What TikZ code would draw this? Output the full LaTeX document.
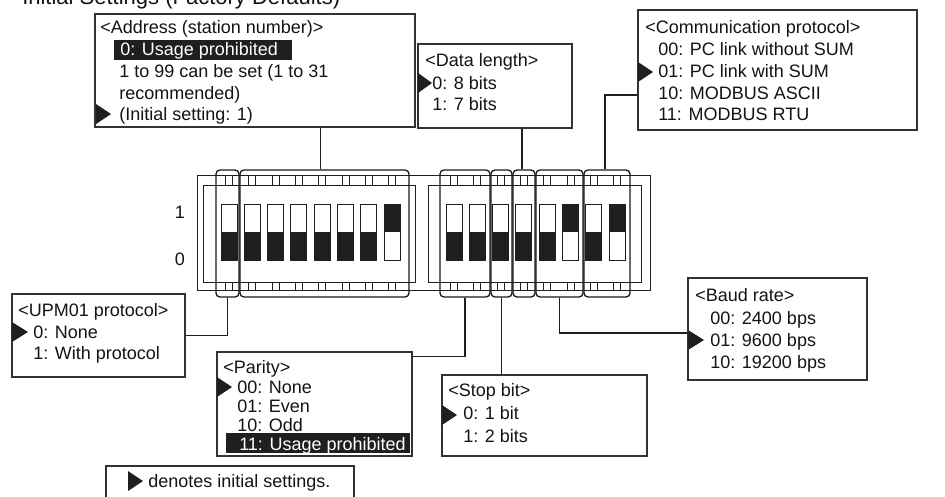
\documentclass[tikz,border=0pt]{standalone}
\usepackage{fontspec}
\setmainfont{Liberation Sans}
\usetikzlibrary{calc,fit}
\newcommand\swrow[2]{%
  \foreach \s [count=\i from 0] in {#2} {
    \pgfmathsetmacro\xa{#1+23.33*\i}
    \pgfmathsetmacro\xb{\xa+16}
    \pgfmathsetmacro\xc{\xa+8}
    \ifnum\s=1 \fill[ink] (\xa,204) rectangle (\xb,232); \else \fill[ink] (\xa,232) rectangle (\xb,260); \fi
    \draw[sw] (\xa,204) rectangle (\xb,260);
    \draw[sw] (\xc-3.5,175) rectangle (\xc+3.5,185);
    \draw[sw] (\xc-3.5,282) rectangle (\xc+3.5,290);
  }}
\begin{document}
\begin{tikzpicture}[x=0.75pt,y=-0.75pt,
  ink/.style={black!88},
  box/.style={draw=black!80, line width=0.9pt, rectangle, inner sep=0pt},
  txt/.style={anchor=base west, inner sep=0pt, font=\fontsize{13.5pt}{16pt}\selectfont, text=black!92},
  hi/.style={txt, text=white},
  grp/.style={draw=black!90, line width=1pt, rounded corners=3pt, inner sep=0pt},
  sw/.style={draw=black!88, line width=0.75pt},
  conn/.style={draw=black!88, line width=0.9pt},
]
\useasboundingbox (0,0) rectangle (945,496);
\fill[white] (0,0) rectangle (945,496);

% partially visible title (cut at the top edge, as in the reference)
\begin{scope}
\clip (0,0) rectangle (945,496);
\node[txt, font=\fontsize{16.5pt}{20pt}\selectfont] (title) at (22,4) {Initial Settings (Factory Defaults)};
\node[box, fit={(106,466) (354,510)}] (note) {};
\end{scope}
\fill[ink] (128,471) -- (143,481) -- (128,491) -- cycle;
\node[txt] (notet) at (148,487) {denotes initial settings.};

% DIP switch modules
\draw[sw] (197,175) rectangle (650,290);
\draw[sw] (203,185) rectangle (415,282);
\draw[sw] (428,185) rectangle (641,282);
\swrow{221}{0,0,0,0,0,0,0,1}
\swrow{446}{0,0,0,0,0,1,0,1}
\node[txt, anchor=center] (lbl1) at (180,212) {1};
\node[txt, anchor=center] (lbl0) at (180,259) {0};

% groups
\node[grp, fit={(216,170) (239,297)}] (gupm) {};
\node[grp, fit={(240,170) (409,297)}] (gaddr) {};
\node[grp, fit={(440,170) (490,297)}] (gpar) {};
\node[grp, fit={(491,170) (512,297)}] (gstop) {};
\node[grp, fit={(513,170) (535,297)}] (gdata) {};
\node[grp, fit={(536,170) (583,297)}] (gbaud) {};
\node[grp, fit={(584,170) (630,297)}] (gcomm) {};

% Address box
\node[box, fit={(95,14) (415,127)}] (addr) {};
\node[txt] (addrh) at (100,33) {<Address (station number)>};
\fill[ink] (114,40) rectangle (292,60);
\node[hi] (addr1) at (120,55) {0: Usage prohibited};
\node[txt] (addr2) at (119,77) {1 to 99 can be set (1 to 31};
\node[txt] (addr3) at (119,99) {recommended)};
\node[txt] (addr4) at (119,120) {(Initial setting: 1)};
\fill[ink] (96,104) -- (111,114) -- (96,124) -- cycle;

% Data length box
\node[box, fit={(418,44) (572,128)}] (data) {};
\node[txt] (datah) at (425,66) {<Data length>};
\node[txt] (data1) at (432,89) {0: 8 bits};
\node[txt] (data2) at (432,110) {1: 7 bits};
\fill[ink] (418,73) -- (432,83) -- (418,93) -- cycle;

% Communication protocol box
\node[box, fit={(638,10) (917,130)}] (comm) {};
\node[txt] (commh) at (645,33) {<Communication protocol>};
\node[txt] (comm1) at (658,55) {00: PC link without SUM};
\node[txt] (comm2) at (658,77) {01: PC link with SUM};
\node[txt] (comm3) at (658,99) {10: MODBUS ASCII};
\node[txt] (comm4) at (658,120) {11: MODBUS RTU};
\fill[ink] (638,62) -- (653,72) -- (638,82) -- cycle;

% UPM01 box
\node[box, fit={(12,294) (185,377)}] (upm) {};
\node[txt] (upmh) at (18,316) {<UPM01 protocol>};
\node[txt] (upm1) at (33,338) {0: None};
\node[txt] (upm2) at (33,359) {1: With protocol};
\fill[ink] (12,322) -- (28,332) -- (12,342) -- cycle;

% Parity box
\node[box, fit={(217,352) (412,456)}] (par) {};
\node[txt] (parh) at (223,373) {<Parity>};
\node[txt] (par1) at (237,393) {00: None};
\node[txt] (par2) at (237,412) {01: Even};
\node[txt] (par3) at (237,431) {10: Odd};
\fill[ink] (226,433) rectangle (410,453);
\node[hi] (par4) at (239,450) {11: Usage prohibited};
\fill[ink] (217,377) -- (232,387) -- (217,397) -- cycle;

% Stop bit box
\node[box, fit={(442,375) (647,456)}] (stop) {};
\node[txt] (stoph) at (448,396) {<Stop bit>};
\node[txt] (stop1) at (463,419) {0: 1 bit};
\node[txt] (stop2) at (463,442) {1: 2 bits};
\fill[ink] (442,405) -- (457,415) -- (442,425) -- cycle;

% Baud rate box
\node[box, fit={(688,278) (867,380)}] (baud) {};
\node[txt] (baudh) at (695,301) {<Baud rate>};
\node[txt] (baud1) at (710,324) {00: 2400 bps};
\node[txt] (baud2) at (710,346) {01: 9600 bps};
\node[txt] (baud3) at (710,368) {10: 19200 bps};
\fill[ink] (688,330) -- (704,340) -- (688,350) -- cycle;

% connectors
\draw[conn] ($(gaddr.north)+(-4,0)$) -- ($(gaddr.north |- addr.south)+(-4,0)$);
\draw[conn] ($(gdata.north)+(-2,0)$) -- ($(gdata.north |- data.south)+(-2,0)$);
\draw[conn] ($(comm.west)+(0,25)$) -| ($(gcomm.north)+(-2,0)$);
\draw[conn] (upm.east) -| (gupm.south);
\draw[conn] ($(par.north east)+(0,5)$) -| (gpar.south);
\draw[conn] (gstop.south) -- (gstop.south |- stop.north);
\draw[conn] (gbaud.south) |- ($(baud.west)+(0,4)$);
\end{tikzpicture}
\end{document}
